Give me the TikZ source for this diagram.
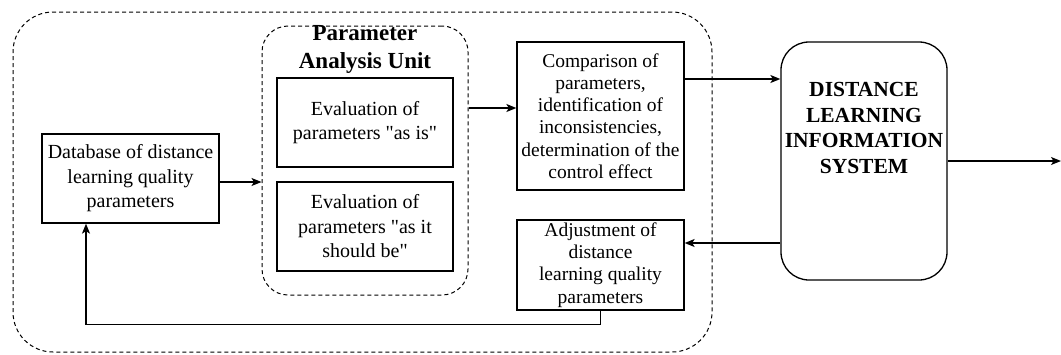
\documentclass[tikz,border=0pt]{standalone}
\usepackage{fontspec}
\setmainfont{Liberation Serif}
\usetikzlibrary{arrows.meta}
\begin{document}
\begin{tikzpicture}[x=1pt,y=-1pt,
  box/.style={draw,line width=1.3pt,rectangle,inner sep=0pt,align=center},
  dashbox/.style={draw,line width=1pt,dash pattern=on 4pt off 3pt,rectangle,inner sep=0pt},
  arr/.style={line width=1.3pt,-{Stealth[length=10pt,width=8pt,inset=2.5pt]}},
  txt/.style={font=\fontsize{20}{24.5}\selectfont},
  stxt/.style={font=\fontsize{19.5}{22.2}\selectfont}]
\useasboundingbox (0,0) rectangle (1061,354);
% outer dashed region
\node[dashbox,rounded corners=40pt,minimum width=699pt,minimum height=340pt] (outer) at (362.5,182) {};
% parameter analysis unit
\node[dashbox,rounded corners=26pt,minimum width=206pt,minimum height=269pt] (pau) at (365,160.5) {};
\node[font=\fontsize{23}{28}\selectfont\bfseries,align=center,inner sep=0pt] (pautitle) at (365,49) {Parameter\\Analysis Unit};
\node[box,txt,minimum width=176pt,minimum height=89pt] (ev1) at (365,122.5) {Evaluation of\\parameters \textquotedbl as is\textquotedbl};
\node[box,txt,minimum width=176pt,minimum height=89pt] (ev2) at (365,226.5) {Evaluation of\\parameters \textquotedbl as it\\should be\textquotedbl};
% database
\node[box,txt,minimum width=177pt,minimum height=89pt] (db) at (130.5,178.5) {Database of distance\\learning quality\\parameters};
% comparison
\node[box,stxt,minimum width=167pt,minimum height=148pt] (comp) at (600.5,116) {Comparison of\\parameters,\\identification of\\inconsistencies,\\determination of the\\control effect};
% adjustment
\node[box,stxt,minimum width=167pt,minimum height=90pt] (adj) at (600.5,265) {Adjustment of\\distance\\learning quality\\parameters};
% DLIS
\node[draw,line width=1.3pt,rounded corners=28pt,minimum width=166pt,minimum height=238pt,inner sep=0pt] (dlis) at (864,161) {};
\node[font=\fontsize{21.5}{25.5}\selectfont\bfseries,align=center,inner sep=0pt] (dlistext) at (864,128) {DISTANCE\\LEARNING\\INFORMATION\\SYSTEM};
\coordinate (out) at (1061,161);
% connectors
\draw[arr] ([yshift=-3.5pt]db.east) -- ([yshift=-3.5pt]db.east -| pau.west);
\draw[arr] ([yshift=8pt]comp.west -| pau.east) -- ([yshift=8pt]comp.west);
\draw[arr] ([yshift=37pt]comp.east) -- ([yshift=37pt]comp.east -| dlis.west);
\draw[arr] ([yshift=22pt]adj.east -| dlis.west) -- ([yshift=22pt]adj.east);
\draw[arr] (dlis.east) -- (out);
\draw[arr] (adj.south) -- ++(0,14) -| ([xshift=-44.5pt]db.south);
\end{tikzpicture}
\end{document}
